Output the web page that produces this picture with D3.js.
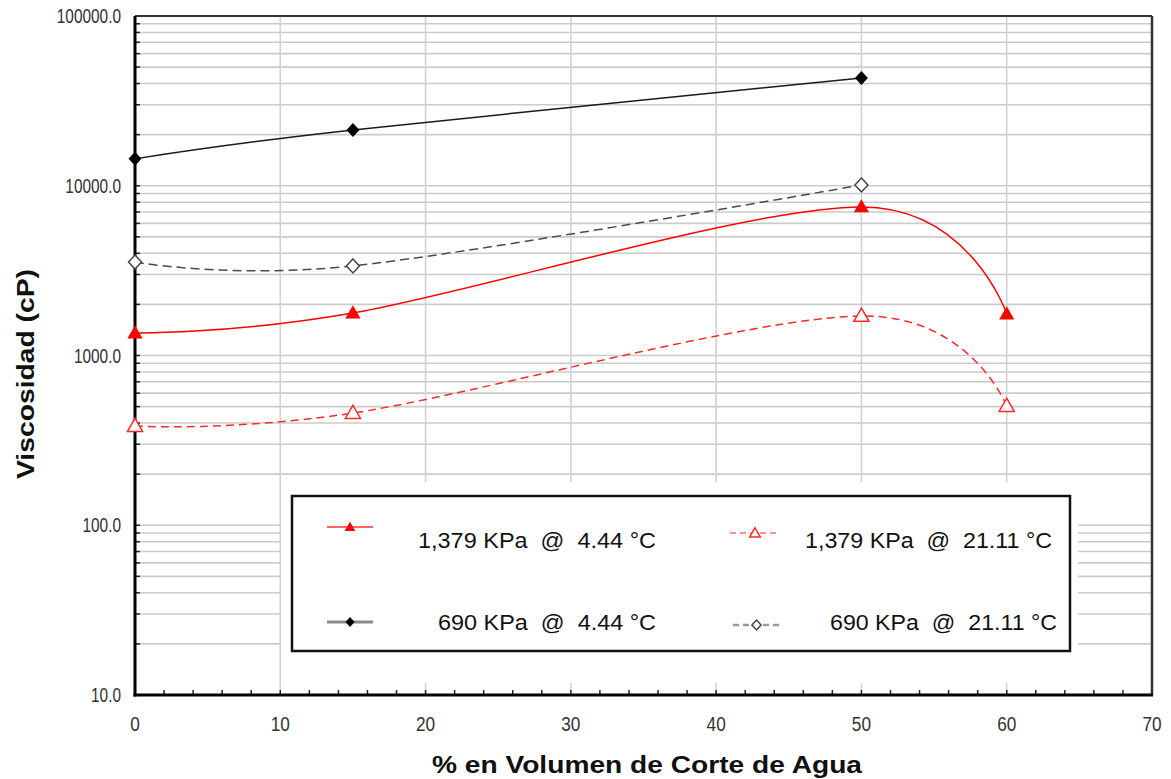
<!DOCTYPE html>
<html>
<head>
<meta charset="utf-8">
<script src="https://cdn.jsdelivr.net/npm/d3@7/dist/d3.min.js"></script>
<style>
  html, body { margin: 0; padding: 0; background: #fff; }
  svg { display: block; font-family: "Liberation Sans", Arial, sans-serif; }
  text.pre { white-space: pre; }
</style>
</head>
<body>
<svg id="chart" width="1171" height="779"></svg>
<script>
// Water cut (% by volume) for each series
const waterCut1379 = [0, 15, 50, 60];
const waterCut690 = [0, 15, 50];

// Viscosity (cP)
const visc1379At444 = [1357, 1780, 7500, 1756];
const visc1379At2111 = [384, 458, 1710, 504];
const visc690At444 = [14400, 21300, 43100];
const visc690At2111 = [3550, 3370, 10100];

// Axis ticks and labels
const xTicks = [0, 10, 20, 30, 40, 50, 60, 70];
const xMinorTicks = d3.range(0, 71, 2);
const yDecades = [10, 100, 1000, 10000, 100000];
const yTickLabels = ["10.0", "100.0", "1000.0", "10000.0", "100000.0"];

const legendLabels = [
  "1,379 KPa  @  4.44 °C",
  "1,379 KPa  @  21.11 °C",
  "690 KPa  @  4.44 °C",
  "690 KPa  @  21.11 °C"
];

const xTitle = "% en Volumen de Corte de Agua";
const yTitle = "Viscosidad (cP)";

const svg = d3.select("#chart");
const plotLeft = 135, plotRight = 1152, plotTop = 16, plotBottom = 695;

const x = d3.scaleLinear().domain([0, 70]).range([plotLeft, plotRight]);
const y = d3.scaleLog().domain([10, 100000]).range([plotBottom, plotTop]);

// every 1..9 multiple in each decade
const yMinor = [];
yDecades.slice(0, -1).forEach(d => { for (let k = 1; k <= 9; k++) yMinor.push(d * k); });
yMinor.push(100000);

// squeeze text horizontally to a narrow face
function narrow(sel, factor) {
  sel.each(function () {
    const w = this.getComputedTextLength();
    d3.select(this).attr("textLength", w * factor).attr("lengthAdjust", "spacingAndGlyphs");
  });
}

// grid
const grid = svg.append("g");
grid.selectAll("line.h").data(yMinor).join("line")
  .attr("x1", plotLeft).attr("x2", plotRight)
  .attr("y1", d => y(d)).attr("y2", d => y(d))
  .attr("stroke", "#cbcbcb").attr("stroke-width", 1.6);
grid.selectAll("line.v").data(xTicks.slice(1, -1)).join("line")
  .attr("x1", d => x(d)).attr("x2", d => x(d))
  .attr("y1", plotTop).attr("y2", plotBottom)
  .attr("stroke", "#d2d2d2").attr("stroke-width", 1.6);

// white area behind the legend
svg.append("rect")
  .attr("x", 281).attr("y", 482).attr("width", 797).attr("height", 201)
  .attr("fill", "#fff");

// axis ticks (inward)
const ticks = svg.append("g").attr("stroke", "#222").attr("stroke-width", 1.5);
ticks.selectAll("line.ym").data(yMinor).join("line")
  .attr("x1", plotLeft).attr("x2", plotLeft + 5)
  .attr("y1", d => y(d)).attr("y2", d => y(d));
ticks.selectAll("line.xm").data(xMinorTicks).join("line")
  .attr("x1", d => x(d)).attr("x2", d => x(d))
  .attr("y1", plotBottom).attr("y2", plotBottom - 5);

// frame
svg.append("line").attr("x1", plotLeft).attr("x2", plotRight).attr("y1", plotTop).attr("y2", plotTop)
  .attr("stroke", "#333").attr("stroke-width", 2);
svg.append("line").attr("x1", plotRight).attr("x2", plotRight).attr("y1", plotTop).attr("y2", plotBottom)
  .attr("stroke", "#333").attr("stroke-width", 2.5);
svg.append("line").attr("x1", plotLeft).attr("x2", plotLeft).attr("y1", plotTop).attr("y2", plotBottom + 1.5)
  .attr("stroke", "#000").attr("stroke-width", 3);
svg.append("line").attr("x1", plotLeft - 1.5).attr("x2", plotRight + 1).attr("y1", plotBottom).attr("y2", plotBottom)
  .attr("stroke", "#000").attr("stroke-width", 3);

// tick labels
svg.append("g").selectAll("text").data(yDecades).join("text")
  .attr("x", 121).attr("y", d => y(d)).attr("dy", "0.36em")
  .attr("text-anchor", "end").attr("font-size", 20).attr("fill", "#333")
  .text((d, i) => yTickLabels[i])
  .call(narrow, 0.77);
svg.append("g").selectAll("text").data(xTicks).join("text")
  .attr("x", d => x(d)).attr("y", 731)
  .attr("text-anchor", "middle").attr("font-size", 20).attr("fill", "#333")
  .text(d => d)
  .call(narrow, 0.86);

// axis titles
svg.append("text")
  .attr("x", 647).attr("y", 773).attr("text-anchor", "middle")
  .attr("font-size", 24).attr("font-weight", "bold").attr("fill", "#111")
  .attr("textLength", 430).attr("lengthAdjust", "spacingAndGlyphs")
  .text(xTitle);
svg.append("text")
  .attr("transform", "translate(34,374) rotate(-90)").attr("text-anchor", "middle")
  .attr("font-size", 24).attr("font-weight", "bold").attr("fill", "#111")
  .attr("textLength", 210).attr("lengthAdjust", "spacingAndGlyphs")
  .text(yTitle);

// series
const line = d3.line().x(d => x(d[0])).y(d => y(d[1])).curve(d3.curveCatmullRom.alpha(0));
const series = [
  { xs: waterCut1379, ys: visc1379At444, color: "#ff0000", dash: null, width: 1.5, marker: "triFill" },
  { xs: waterCut1379, ys: visc1379At2111, color: "#ff2a2a", dash: "8,5", width: 1.5, marker: "triOpen" },
  { xs: waterCut690, ys: visc690At444, color: "#1a1a1a", dash: null, width: 1.5, marker: "diaFill" },
  { xs: waterCut690, ys: visc690At2111, color: "#4a4a4a", dash: "9,5", width: 1.5, marker: "diaOpen" }
];

const tri = d3.symbol().type(d3.symbolTriangle);
const dia = (w, h) => `M0,${-h}L${w},0L0,${h}L${-w},0Z`;

function drawMarker(g, kind, cx, cy, scale) {
  const s = scale || 1;
  if (kind === "triFill") {
    g.append("path").attr("d", tri.size(100 * s * s)()).attr("transform", `translate(${cx},${cy + 1})`)
      .attr("fill", "#ff0000");
  } else if (kind === "triOpen") {
    g.append("path").attr("d", tri.size(100 * s * s)()).attr("transform", `translate(${cx},${cy + 1})`)
      .attr("fill", "#fff").attr("stroke", "#ff2a2a").attr("stroke-width", 1.5);
  } else if (kind === "diaFill") {
    g.append("path").attr("d", dia(6.5 * s, 7 * s)).attr("transform", `translate(${cx},${cy})`)
      .attr("fill", "#000");
  } else {
    g.append("path").attr("d", dia(6.5 * s, 7 * s)).attr("transform", `translate(${cx},${cy})`)
      .attr("fill", "#fff").attr("stroke", "#444").attr("stroke-width", 1.5);
  }
}

series.forEach(s => {
  const pts = s.xs.map((v, i) => [v, s.ys[i]]);
  const g = svg.append("g");
  g.append("path").attr("d", line(pts)).attr("fill", "none")
    .attr("stroke", s.color).attr("stroke-width", s.width)
    .attr("stroke-dasharray", s.dash);
  pts.forEach(p => drawMarker(g, s.marker, x(p[0]), y(p[1])));
});

// legend
svg.append("rect")
  .attr("x", 292).attr("y", 496).attr("width", 778).attr("height", 155)
  .attr("fill", "#fff").attr("stroke", "#111").attr("stroke-width", 2.5);

const legendItems = [
  { x1: 327, x2: 373, y: 527, color: "#ff3030", dash: null, w: 1.5, marker: "triFill", tx: 656, ty: 548, tl: 238 },
  { x1: 730, x2: 780, y: 533, color: "#ff7070", dash: "6,4", w: 1.5, marker: "triOpen", tx: 1052, ty: 548, tl: 247 },
  { x1: 327, x2: 373, y: 622, color: "#8a8a8a", dash: null, w: 3, marker: "diaFill", tx: 656, ty: 630, tl: 218 },
  { x1: 733, x2: 780, y: 625, color: "#9a9a9a", dash: "6,4", w: 2.5, marker: "diaOpen", tx: 1057, ty: 630, tl: 227 }
];
legendItems.forEach((it, i) => {
  const g = svg.append("g");
  g.append("line").attr("x1", it.x1).attr("x2", it.x2).attr("y1", it.y).attr("y2", it.y)
    .attr("stroke", it.color).attr("stroke-width", it.w).attr("stroke-dasharray", it.dash);
  drawMarker(g, it.marker, (it.x1 + it.x2) / 2, it.y, 0.7);
  g.append("text").attr("class", "pre").attr("xml:space", "preserve")
    .attr("x", it.tx).attr("y", it.ty).attr("text-anchor", "end")
    .attr("font-size", 22).attr("fill", "#111")
    .attr("textLength", it.tl).attr("lengthAdjust", "spacingAndGlyphs")
    .text(legendLabels[i]);
});
</script>
</body>
</html>
